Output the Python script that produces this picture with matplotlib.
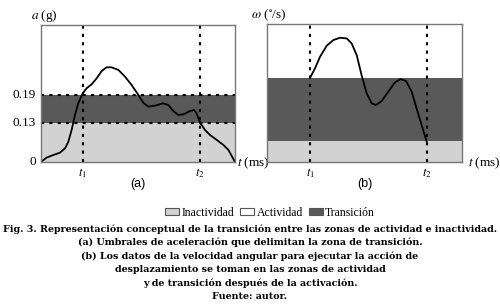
import matplotlib
matplotlib.use("Agg")
import matplotlib.pyplot as plt
from matplotlib.patches import Patch

plt.rcParams["mathtext.fontset"] = "stix"
plt.rcParams["font.family"] = "Liberation Serif"

# conceptual chart: positions in axes-fraction units
# (a) acceleration curve
acc_t = [0, 0.029, 0.064, 0.098, 0.124, 0.141, 0.158, 0.175, 0.192, 0.215, 0.235,
         0.261, 0.287, 0.313, 0.338, 0.364, 0.399, 0.433, 0.467, 0.502, 0.527,
         0.553, 0.588, 0.630, 0.656, 0.682, 0.708, 0.734, 0.768, 0.789, 0.802,
         0.820, 0.845, 0.871, 0.906, 0.940, 0.966, 1.0]
acc_v = [0, 0.032, 0.051, 0.068, 0.100, 0.148, 0.234, 0.343, 0.428, 0.501, 0.538,
         0.567, 0.611, 0.664, 0.691, 0.691, 0.672, 0.623, 0.562, 0.489, 0.433,
         0.404, 0.411, 0.428, 0.416, 0.372, 0.343, 0.348, 0.372, 0.380, 0.355,
         0.287, 0.234, 0.197, 0.161, 0.124, 0.088, 0.0]
acc_low, acc_high = 0.287, 0.489   # 0.13 g and 0.19 g
acc_ticks = [0, acc_low, acc_high]
acc_labels = ["0", "0.13", "0.19"]

# (b) angular velocity curve
gyr_t = [0.221, 0.246, 0.272, 0.306, 0.340, 0.374, 0.409, 0.434, 0.460, 0.485,
         0.511, 0.537, 0.559, 0.588, 0.622, 0.656, 0.685, 0.713, 0.742, 0.767,
         0.793, 0.819]
gyr_v = [0.611, 0.679, 0.763, 0.843, 0.884, 0.901, 0.896, 0.860, 0.775, 0.630,
         0.498, 0.425, 0.413, 0.442, 0.510, 0.577, 0.601, 0.587, 0.510, 0.389,
         0.268, 0.147]
gyr_low, gyr_high = 0.149, 0.606

t1_a, t2_a = 0.215, 0.820
t1_b, t2_b = 0.221, 0.819

light = "#d2d2d2"
dark = "#595959"
frame = "#777777"

fig = plt.figure(figsize=(5, 3.05), dpi=100)
axa = fig.add_axes([0.082, 0.469, 0.388, 0.449])
axb = fig.add_axes([0.534, 0.469, 0.39, 0.452])

for ax in (axa, axb):
    ax.set_xlim(0, 1)
    ax.set_ylim(0, 1)
    ax.set_xticks([])
    ax.set_yticks([])
    for s in ax.spines.values():
        s.set_color(frame)
        s.set_linewidth(1.0)

# panel (a)
axa.axhspan(0, acc_low, color=light, lw=0)
axa.axhspan(acc_low, acc_high, color=dark, lw=0)
for y in (acc_low, acc_high):
    axa.axhline(y, color="black", ls=(0, (1.5, 2.5)), lw=1.5)
for x in (t1_a, t2_a):
    axa.axvline(x, color="black", ls=(0, (1.5, 2.5)), lw=1.5)
axa.plot(acc_t, acc_v, color="black", lw=1.3)
for y, lab in zip(acc_ticks, acc_labels):
    axa.text(-0.025, y, lab, transform=axa.transAxes, ha="right", va="center", fontsize=9.5)
axa.text(-0.05, 1.01, "$a$ (g)", transform=axa.transAxes, ha="left", va="bottom", fontsize=9.5)
axa.text(t1_a, -0.03, "$t_1$", transform=axa.transAxes, ha="center", va="top", fontsize=9)
axa.text(t2_a, -0.03, "$t_2$", transform=axa.transAxes, ha="center", va="top", fontsize=9)
axa.text(1.01, -0.01, "$t$ (ms)", transform=axa.transAxes, ha="left", va="center", fontsize=9.5)
axa.text(0.5, -0.16, "(a)", transform=axa.transAxes, ha="center", va="center",
         fontsize=9, family="Liberation Sans")

# panel (b)
axb.axhspan(0, gyr_low, color=light, lw=0)
axb.axhspan(gyr_low, gyr_high, color=dark, lw=0)
for x in (t1_b, t2_b):
    axb.axvline(x, color="black", ls=(0, (1.5, 2.5)), lw=1.5)
axb.plot(gyr_t, gyr_v, color="black", lw=1.3)
axb.text(-0.08, 1.01, "$\\omega$ ($^{\\circ}$/s)", transform=axb.transAxes, ha="left",
         va="bottom", fontsize=9.5)
axb.text(t1_b, -0.03, "$t_1$", transform=axb.transAxes, ha="center", va="top", fontsize=9)
axb.text(t2_b, -0.03, "$t_2$", transform=axb.transAxes, ha="center", va="top", fontsize=9)
axb.text(1.03, -0.01, "$t$ (ms)", transform=axb.transAxes, ha="left", va="center", fontsize=9.5)
axb.text(0.5, -0.16, "(b)", transform=axb.transAxes, ha="center", va="center",
         fontsize=9, family="Liberation Sans")

handles = [Patch(facecolor=light, edgecolor="#555555", lw=0.8),
           Patch(facecolor="white", edgecolor="#555555", lw=0.8),
           Patch(facecolor=dark, edgecolor="#555555", lw=0.8)]
fig.legend(handles, ["Inactividad", "Actividad", "Transición"], loc="center",
           bbox_to_anchor=(0.54, 0.303), ncol=3, frameon=False, fontsize=8.5,
           handlelength=1.2, handleheight=0.6, handletextpad=0.2, columnspacing=0.5)

caption = ["Fig. 3. Representación conceptual de la transición entre las zonas de actividad e inactividad.",
           "(a) Umbrales de aceleración que delimitan la zona de transición.",
           "(b) Los datos de la velocidad angular para ejecutar la acción de",
           "desplazamiento se toman en las zonas de actividad",
           "y de transición después de la activación.",
           "Fuente: autor."]
for i, line in enumerate(caption):
    fig.text(0.5, 1 - (229 + i * 13.5) / 305, line, ha="center", va="center",
             fontsize=6.8, family="DejaVu Serif", weight="bold")

fig.savefig("out.png", dpi=100)
